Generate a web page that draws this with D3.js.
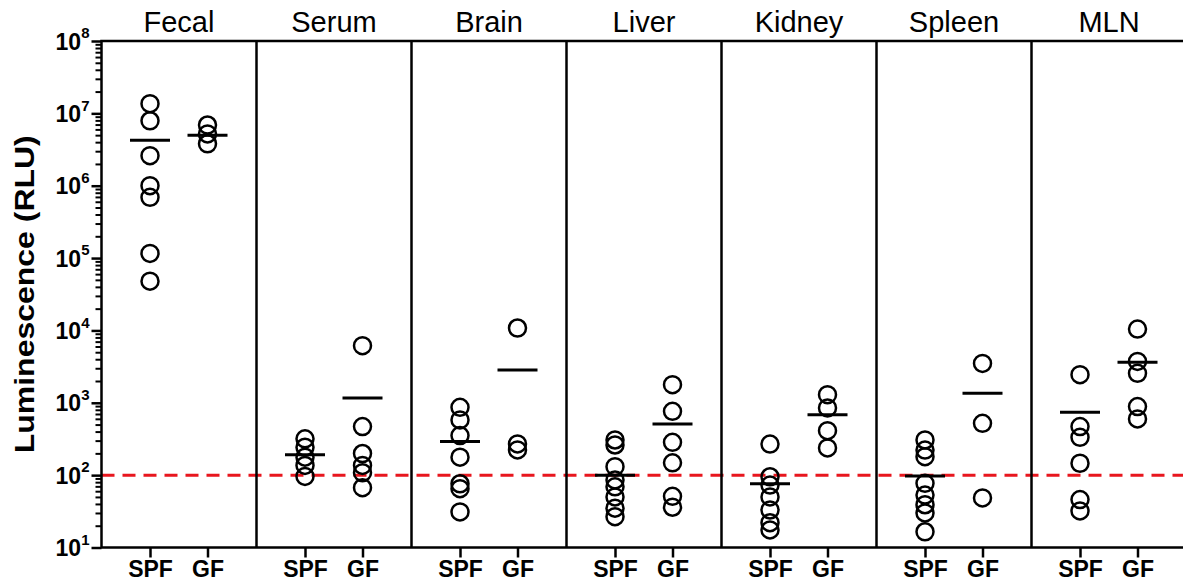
<!DOCTYPE html>
<html lang="en">
<head>
<meta charset="UTF-8">
<title>Luminescence by tissue</title>
<script src="https://d3js.org/d3.v7.min.js"></script>
<style>
  body { margin: 0; background: #fff; }
  svg { display: block; font-family: Arial, "Liberation Sans", sans-serif; }
  .panel-title { font-size: 29px; fill: #000; text-anchor: middle; }
  .ylab { font-size: 28px; font-weight: bold; }
  .xlab text { font-size: 23px; font-weight: bold; }
</style>
</head>
<body>
<svg id="chart" width="1183" height="583"></svg>
<script>
// data
const tissues = ["Fecal", "Serum", "Brain", "Liver", "Kidney", "Spleen", "MLN"];
const groups = ["SPF", "GF"];
const spfValues = [
  [1.36e7, 7.9e6, 2.6e6, 1.0e6, 6.9e5, 1.16e5, 4.8e4],
  [318, 243, 177, 136, 96],
  [865, 580, 352, 177, 76, 65, 31],
  [306, 261, 131, 86, 69, 50, 35, 26.7],
  [269, 95, 73, 50, 33, 22, 17.5],
  [306, 222, 180, 77, 53, 39, 30, 16.5],
  [2450, 469, 333, 146, 46, 32]
];
const gfValues = [
  [6.9e6, 5.2e6, 3.8e6],
  [6150, 469, 199, 136, 108, 67],
  [10800, 270, 223],
  [1780, 762, 284, 148, 51, 36],
  [1295, 849, 412, 238],
  [3500, 520, 48.5],
  [10450, 3735, 2550, 885, 598]
];
const spfMeans = [4.25e6, 192, 291, 100, 76, 97, 738];
const gfMeans = [5.0e6, 1166, 2840, 510, 686, 1350, 3630];
const yTicks = [1e1, 1e2, 1e3, 1e4, 1e5, 1e6, 1e7, 1e8];
const detectionLimit = 100;

const svg = d3.select("#chart");
const plotLeft = 101.5, plotTop = 41, plotBottom = 547.5, panelW = 155;

const x = d3.scaleBand().domain(tissues).range([plotLeft, plotLeft + panelW * tissues.length]);
const xInner = d3.scalePoint().domain(groups).range([48.5, 106]);
const y = d3.scaleLog().domain([10, 1e8]).range([plotBottom, plotTop]);

// minor ticks 2..9 per decade
const minorTicks = [];
yTicks.slice(0, -1).forEach(t => { for (let k = 2; k <= 9; k++) minorTicks.push(t * k); });

const yMinor = svg.append("g").attr("transform", `translate(${plotLeft},0)`)
  .call(d3.axisLeft(y).tickValues(minorTicks).tickSize(6).tickFormat(""));
yMinor.select(".domain").remove();
yMinor.selectAll("line").attr("stroke-width", 2);

const yAxis = svg.append("g").attr("transform", `translate(${plotLeft},0)`)
  .call(d3.axisLeft(y).tickValues(yTicks).tickSize(10).tickPadding(4).tickFormat(""));
yAxis.select(".domain").remove();
yAxis.selectAll("line").attr("stroke-width", 2.5);
yAxis.selectAll(".tick text").each(function(d) {
  const t = d3.select(this)
    .attr("font-size", 23).attr("font-weight", "bold").attr("fill", "#000")
    .attr("font-family", "Arial, 'Liberation Sans', sans-serif")
    .attr("dy", "0.35em").attr("x", -12);
  t.append("tspan").text("10");
  t.append("tspan").text(Math.round(Math.log10(d)))
    .attr("font-size", 15).attr("dy", "-0.75em");
});

svg.append("text")
  .attr("class", "ylab")
  .attr("transform", `translate(34,${(plotTop + plotBottom) / 2}) rotate(-90)`)
  .attr("text-anchor", "middle")
  .attr("textLength", 318)
  .attr("lengthAdjust", "spacingAndGlyphs")
  .text("Luminescence (RLU)");

// bottom ticks per panel
tissues.forEach(tissue => {
  const g = svg.append("g").attr("class", "xlab")
    .attr("transform", `translate(${x(tissue)},${plotBottom})`)
    .call(d3.axisBottom(xInner).tickSize(10).tickSizeOuter(0).tickPadding(3));
  g.select(".domain").remove();
  g.selectAll("line").attr("stroke-width", 2.5);
  g.selectAll("text").attr("fill", "#000")
    .attr("font-family", "Arial, 'Liberation Sans', sans-serif");
});

// detection limit
svg.append("line")
  .attr("x1", plotLeft).attr("x2", x.range()[1])
  .attr("y1", y(detectionLimit)).attr("y2", y(detectionLimit))
  .attr("stroke", "#e8161e").attr("stroke-width", 3)
  .attr("stroke-dasharray", "13,8");

// frame and dividers
svg.append("rect")
  .attr("x", plotLeft).attr("y", plotTop)
  .attr("width", x.range()[1] - plotLeft).attr("height", plotBottom - plotTop)
  .attr("fill", "none").attr("stroke", "#000").attr("stroke-width", 2.5);
svg.selectAll(".divider").data(tissues.slice(1)).enter().append("line")
  .attr("class", "divider")
  .attr("x1", d => x(d)).attr("x2", d => x(d))
  .attr("y1", plotTop).attr("y2", plotBottom)
  .attr("stroke", "#000").attr("stroke-width", 2.5);

// panel titles
svg.selectAll(".panel-title").data(tissues).enter().append("text")
  .attr("class", "panel-title")
  .attr("x", d => x(d) + panelW / 2)
  .attr("y", 32)
  .text(d => d);

// points and means
const series = [
  { group: "SPF", values: spfValues, means: spfMeans },
  { group: "GF", values: gfValues, means: gfMeans }
];
series.forEach(s => {
  tissues.forEach((tissue, i) => {
    const cx = x(tissue) + xInner(s.group);
    svg.append("g").selectAll("circle").data(s.values[i]).enter().append("circle")
      .attr("cx", cx).attr("cy", d => y(d)).attr("r", 8.5)
      .attr("fill", "none").attr("stroke", "#000").attr("stroke-width", 2.5);
    svg.append("line")
      .attr("x1", cx - 20).attr("x2", cx + 20)
      .attr("y1", y(s.means[i])).attr("y2", y(s.means[i]))
      .attr("stroke", "#000").attr("stroke-width", 3);
  });
});
</script>
</body>
</html>
